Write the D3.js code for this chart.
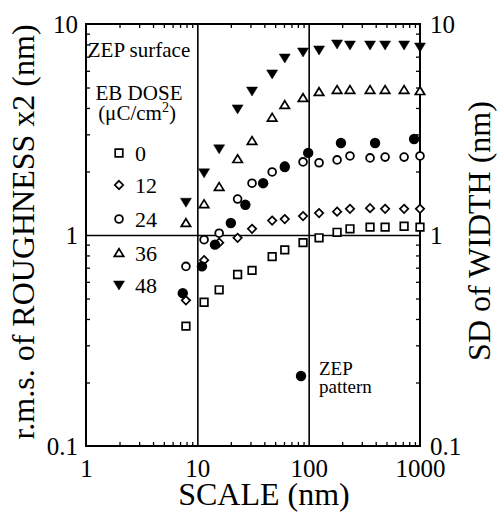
<!DOCTYPE html>
<html>
<head>
<meta charset="utf-8">
<script src="https://cdn.jsdelivr.net/npm/d3@7"></script>
<style>
  body { margin: 0; background: #fff; }
  svg { display: block; }
  svg text { font-family: "Liberation Serif", "Times New Roman", serif; fill: #000; }
</style>
</head>
<body>
<svg width="497" height="513"></svg>
<script>
// scale values (nm) shared by the ZEP surface series
var scaleNm = [7.9, 11.5, 15.7, 23, 31, 47, 61, 89, 124, 180, 235, 356, 486, 720, 1000];

// r.m.s. roughness x2 (nm) for each EB dose
var dose0  = [0.37, 0.48, 0.55, 0.65, 0.68, 0.79, 0.85, 0.92, 0.97, 1.03, 1.07, 1.09, 1.09, 1.10, 1.09];
var dose12 = [0.49, 0.76, 0.92, 0.97, 1.07, 1.17, 1.19, 1.23, 1.27, 1.29, 1.33, 1.34, 1.33, 1.33, 1.33];
var dose24 = [0.71, 0.95, 1.02, 1.48, 1.76, 1.99, 2.12, 2.22, 2.20, 2.27, 2.37, 2.32, 2.34, 2.34, 2.37];
var dose36 = [1.14, 1.40, 1.69, 2.29, 2.79, 3.60, 4.13, 4.46, 4.76, 4.87, 4.87, 4.87, 4.87, 4.87, 4.81];
var dose48 = [1.43, 1.97, 2.56, 3.96, 4.81, 5.80, 6.90, 7.37, 7.53, 8.04, 7.95, 7.95, 7.95, 7.95, 7.78];

// ZEP pattern: SD of width (nm)
var patternScale = [7.4, 11, 14.4, 20, 27, 39, 61, 99, 195, 395, 885];
var patternSD    = [0.53, 0.71, 0.90, 1.14, 1.39, 1.76, 2.10, 2.45, 2.73, 2.73, 2.85];

var doseLabels = ["0", "12", "24", "36", "48"];
var xTickLabels = [1, 10, 100, 1000];
var yTickLabels = [0.1, 1, 10];

function drawChart() {
  var svg = d3.select("svg");
  var mLeft = 86, mRight = 420, mTop = 24, mBottom = 446;

  var x = d3.scaleLog().domain([1, 1000]).range([mLeft, mRight]);
  var y = d3.scaleLog().domain([0.1, 10]).range([mBottom, mTop]);

  // marker shapes
  var shapes = {
    square: function(s) { return "M" + (-s) + "," + (-s) + "H" + s + "V" + s + "H" + (-s) + "Z"; },
    diamond: function(s) { return "M0," + (-s) + "L" + s + ",0L0," + s + "L" + (-s) + ",0Z"; },
    up: function(s) { return "M0," + (-s) + "L" + (s * 1.1) + "," + (s * 0.8) + "L" + (-s * 1.1) + "," + (s * 0.8) + "Z"; },
    down: function(s) { return "M0," + s + "L" + (s * 1.1) + "," + (-s * 0.8) + "L" + (-s * 1.1) + "," + (-s * 0.8) + "Z"; }
  };

  var series = [
    { values: dose0,  kind: "square",  size: 3.8 },
    { values: dose12, kind: "diamond", size: 4.2 },
    { values: dose24, kind: "circle",  size: 3.9 },
    { values: dose36, kind: "up",      size: 4.3 },
    { values: dose48, kind: "down",    size: 5.0 }
  ];

  function drawMarker(g, kind, size) {
    if (kind == "circle") {
      g.append("circle").attr("r", size)
        .attr("fill", "#fff").attr("stroke", "#000").attr("stroke-width", 1.8);
    } else {
      g.append("path").attr("d", shapes[kind](size))
        .attr("fill", kind == "down" ? "#000" : "#fff")
        .attr("stroke", "#000")
        .attr("stroke-width", kind == "down" ? 0.5 : 1.7);
    }
  }

  // minor ticks, inward on all four sides
  var xMinor = [], yMinor = [];
  [1, 10, 100].forEach(function(d) { for (var i = 2; i < 10; i++) xMinor.push(d * i); });
  [0.1, 1].forEach(function(d) { for (var i = 2; i < 10; i++) yMinor.push(d * i); });

  function clean(g) { g.select(".domain").remove(); g.selectAll("line").attr("stroke-width", 1.3); }

  svg.append("g").attr("transform", "translate(0," + mBottom + ")")
    .call(d3.axisBottom(x).tickValues(xMinor).tickSize(-4).tickFormat("")).call(clean);
  svg.append("g").attr("transform", "translate(0," + mTop + ")")
    .call(d3.axisTop(x).tickValues(xMinor).tickSize(-4).tickFormat("")).call(clean);
  svg.append("g").attr("transform", "translate(" + mLeft + ",0)")
    .call(d3.axisLeft(y).tickValues(yMinor).tickSize(-4).tickFormat("")).call(clean);
  svg.append("g").attr("transform", "translate(" + mRight + ",0)")
    .call(d3.axisRight(y).tickValues(yMinor).tickSize(-4).tickFormat("")).call(clean);

  // decade grid lines
  svg.append("g").attr("transform", "translate(0," + mBottom + ")")
    .call(d3.axisBottom(x).tickValues([10, 100]).tickSize(-(mBottom - mTop)).tickFormat(""))
    .call(function(g) { g.select(".domain").remove(); g.selectAll("line").attr("stroke-width", 1.6); });
  svg.append("g").attr("transform", "translate(" + mLeft + ",0)")
    .call(d3.axisLeft(y).tickValues([1]).tickSize(-(mRight - mLeft)).tickFormat(""))
    .call(function(g) { g.select(".domain").remove(); g.selectAll("line").attr("stroke-width", 1.6); });

  // frame
  svg.append("rect").attr("x", mLeft).attr("y", mTop)
    .attr("width", mRight - mLeft).attr("height", mBottom - mTop)
    .attr("fill", "none").attr("stroke", "#000").attr("stroke-width", 2);

  // tick labels
  function labels(g) {
    g.select(".domain").remove();
    g.attr("font-size", null).attr("font-family", null);
    g.selectAll("text").attr("font-size", 25);
  }
  var fmt = function(d) { return String(d); };
  svg.append("g").attr("transform", "translate(0," + mBottom + ")")
    .call(d3.axisBottom(x).tickValues(xTickLabels).tickSize(0).tickPadding(13).tickFormat(fmt)).call(labels);
  svg.append("g").attr("transform", "translate(" + mLeft + ",0)")
    .call(d3.axisLeft(y).tickValues(yTickLabels).tickSize(0).tickPadding(8).tickFormat(fmt)).call(labels);
  svg.append("g").attr("transform", "translate(" + mRight + ",0)")
    .call(d3.axisRight(y).tickValues(yTickLabels).tickSize(0).tickPadding(10).tickFormat(fmt)).call(labels);

  // axis titles
  svg.append("text").attr("x", 264).attr("y", 505).attr("text-anchor", "middle")
    .attr("font-size", 32).text("SCALE (nm)");
  svg.append("text").attr("transform", "translate(34,232) rotate(-90)").attr("text-anchor", "middle")
    .attr("font-size", 32).text("r.m.s. of ROUGHNESS x2 (nm)");
  svg.append("text").attr("transform", "translate(490,231) rotate(-90)").attr("text-anchor", "middle")
    .attr("font-size", 32).text("SD of WIDTH (nm)");

  // ZEP surface series
  series.forEach(function(s) {
    svg.append("g").selectAll("g")
      .data(s.values)
      .enter().append("g")
      .attr("transform", function(d, i) { return "translate(" + x(scaleNm[i]) + "," + y(d) + ")"; })
      .each(function() { drawMarker(d3.select(this), s.kind, s.size); });
  });

  // ZEP pattern series
  svg.append("g").selectAll("circle")
    .data(patternSD)
    .enter().append("circle")
    .attr("cx", function(d, i) { return x(patternScale[i]); })
    .attr("cy", function(d) { return y(d); })
    .attr("r", 5.2)
    .attr("fill", "#000");

  // legend
  var legend = svg.append("g");
  legend.append("text").attr("x", 139).attr("y", 57).attr("text-anchor", "middle")
    .attr("font-size", 21).text("ZEP surface");
  legend.append("text").attr("x", 139).attr("y", 100).attr("text-anchor", "middle")
    .attr("font-size", 21).text("EB DOSE");
  var unit = legend.append("text").attr("x", 137).attr("y", 120).attr("text-anchor", "middle")
    .attr("font-size", 21);
  unit.append("tspan").text("(\u03BCC/cm");
  unit.append("tspan").attr("font-size", 14).attr("dy", -8).text("2");
  unit.append("tspan").attr("dy", 8).text(")");

  var rowY = [153, 185, 219, 253, 285];
  series.forEach(function(s, i) {
    var g = legend.append("g").attr("transform", "translate(119," + rowY[i] + ")");
    drawMarker(g, s.kind, s.size);
    legend.append("text").attr("x", 135).attr("y", rowY[i]).attr("dy", "0.35em")
      .attr("font-size", 22).text(doseLabels[i]);
  });

  var pat = svg.append("g");
  pat.append("circle").attr("cx", 301).attr("cy", 376).attr("r", 5.2).attr("fill", "#000");
  pat.append("text").attr("x", 319).attr("y", 375).attr("font-size", 19).text("ZEP");
  pat.append("text").attr("x", 319).attr("y", 393).attr("font-size", 19).text("pattern");
}

drawChart();
</script>
</body>
</html>
